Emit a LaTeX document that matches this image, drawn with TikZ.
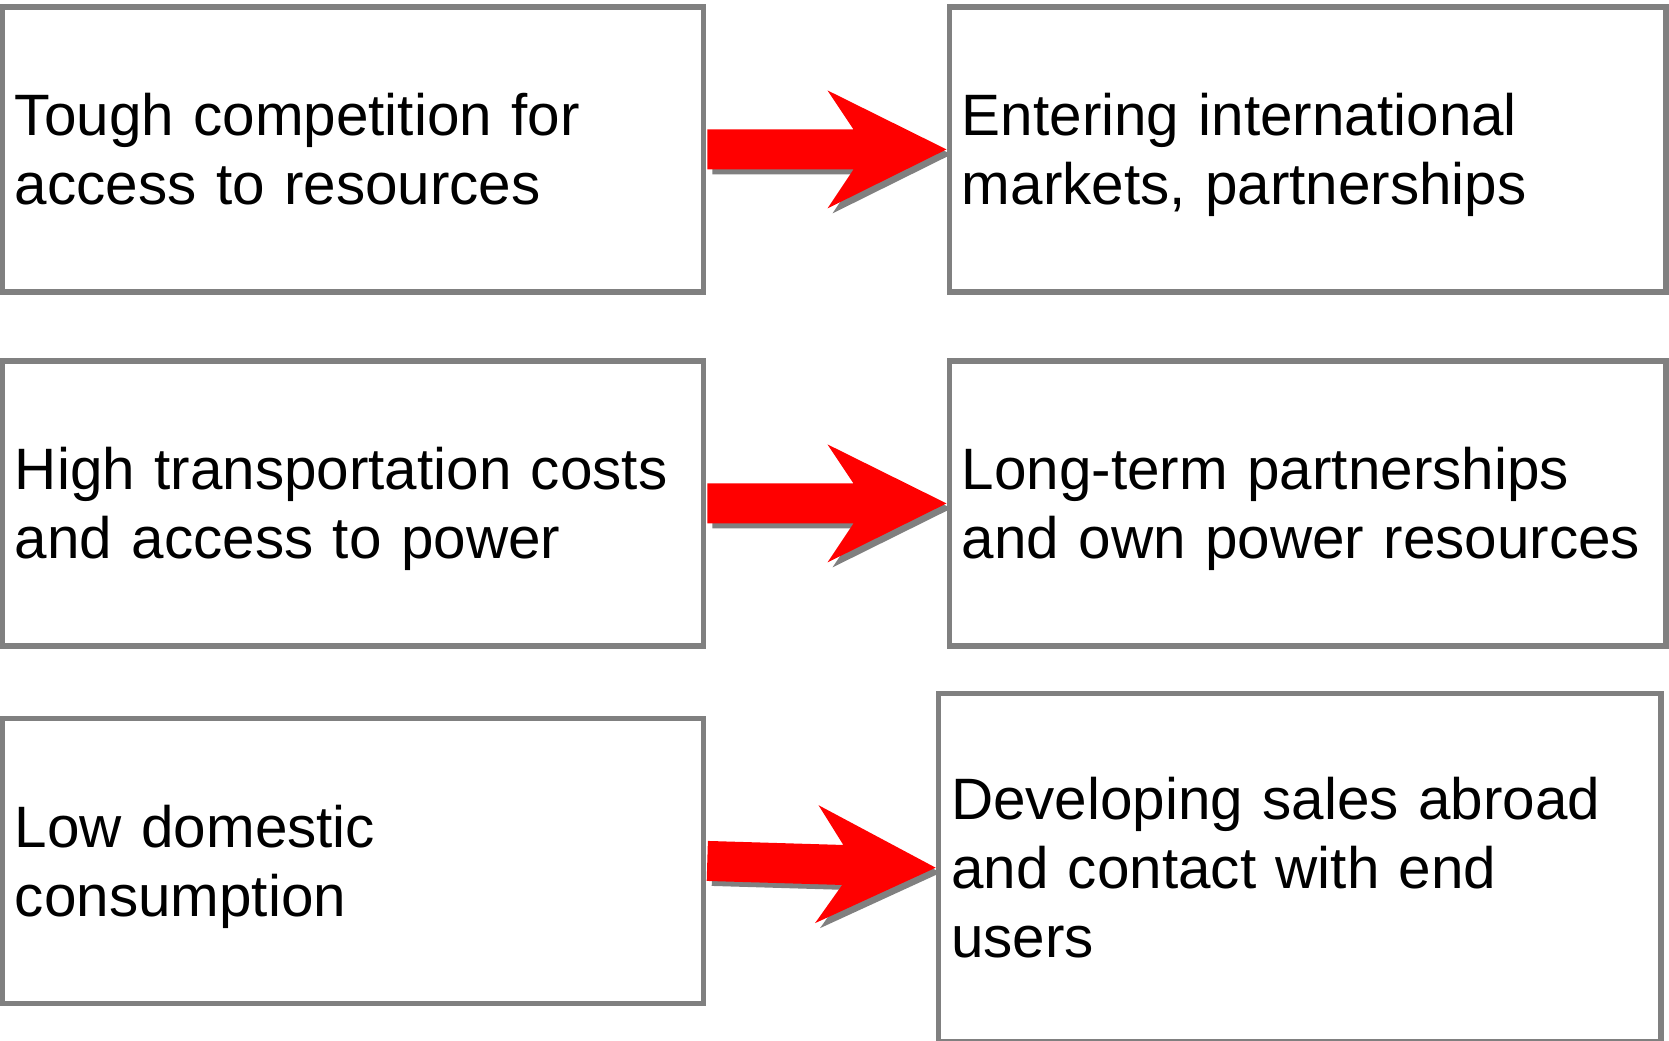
\documentclass[tikz,border=0pt]{standalone}
\usepackage{fontspec}
\setmainfont{Liberation Sans}
\usetikzlibrary{positioning,calc}
\definecolor{framegray}{RGB}{128,128,128}
\definecolor{arrowred}{RGB}{255,0,0}
% fixed line height, so every box sets its lines alike
\newcommand{\linestrut}{\rule[-6.8pt]{0pt}{34.4pt}}
% outline of the thick arrow from one box to the next
\newcommand{\arrowpath}[2]{%
  ($(#1.east)!2pt!(#2.west)!10pt!90:(#2.west)$)
  -- ($(#2.west)!48pt!(#1.east)!10pt!-90:(#1.east)$)
  -- ($(#2.west)!61pt!(#1.east)!29.5pt!-90:(#1.east)$)
  -- ($(#2.west)!1.5pt!(#1.east)$)
  -- ($(#2.west)!61pt!(#1.east)!29.5pt!90:(#1.east)$)
  -- ($(#2.west)!48pt!(#1.east)!10pt!90:(#1.east)$)
  -- ($(#1.east)!2pt!(#2.west)!10pt!-90:(#2.west)$) -- cycle}

\begin{document}
\begin{tikzpicture}[
  every node/.style={font=\fontsize{29.2pt}{34.4pt}\selectfont},
  box/.style={draw=framegray, line width=2.7pt, outer sep=0pt, inner xsep=6.2pt, align=left,
    minimum height=142.5pt, execute at begin node=\linestrut, execute at end node=\linestrut},
  leftbox/.style={box, text width=338pt},
  rightbox/.style={box, text width=345.85pt},
  node distance=34.5pt and 123.1pt
  ]
  \useasboundingbox (0,0) rectangle (834.5pt,-520pt);
  % causes
  \node[leftbox] (comp) at (176.45pt,-74.7pt) {Tough competition for\\access to resources};
  \node[leftbox, below=of comp] (trans) {High transportation costs\\and access to power};
  \node[leftbox, below=36.2pt of trans] (cons) {Low domestic\\consumption};
  % responses
  \node[rightbox, right=of comp] (intl) {Entering international\\markets, partnerships};
  \node[rightbox, right=of trans] (part) {Long-term partnerships\\and own power resources};
  \node[box, text width=348.75pt, minimum height=174.25pt, right=117.7pt of cons, yshift=-3.5pt] (sales) {Developing sales abroad\\and contact with end\\users};
  % arrows with their shadow
  \foreach \a/\b in {comp/intl, trans/part, cons/sales} {
    \fill[framegray, transform canvas={xshift=2.5pt, yshift=-2.5pt}] \arrowpath{\a}{\b};
    \fill[arrowred] \arrowpath{\a}{\b};
  }
\end{tikzpicture}
\end{document}
